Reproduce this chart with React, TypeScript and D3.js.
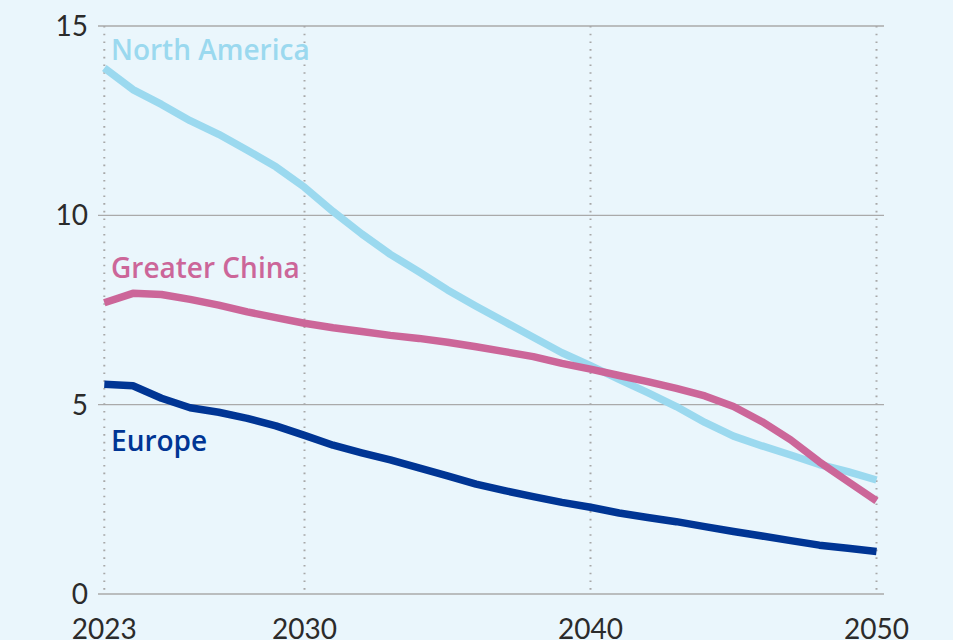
import React from "react";
import * as d3 from "d3";

// Annual values, 2023–2050
const years: number[] = d3.range(2023, 2051);

const northAmerica: number[] = [
  13.89, 13.32, 12.93, 12.5, 12.14, 11.72, 11.28, 10.74, 10.1, 9.51,
  8.97, 8.51, 8.03, 7.6, 7.19, 6.78, 6.37, 6.03, 5.67, 5.32,
  4.95, 4.53, 4.17, 3.91, 3.67, 3.42, 3.23, 3.01,
];

const greaterChina: number[] = [
  7.69, 7.94, 7.91, 7.78, 7.63, 7.45, 7.3, 7.15, 7.03, 6.93,
  6.83, 6.75, 6.65, 6.53, 6.4, 6.27, 6.09, 5.94, 5.77, 5.61,
  5.43, 5.23, 4.95, 4.55, 4.07, 3.49, 2.97, 2.46,
];

const europe: number[] = [
  5.54, 5.5, 5.17, 4.92, 4.8, 4.64, 4.44, 4.19, 3.93, 3.73,
  3.54, 3.33, 3.12, 2.9, 2.73, 2.57, 2.42, 2.29, 2.14, 2.02,
  1.91, 1.78, 1.65, 1.53, 1.41, 1.29, 1.21, 1.12,
];

const yTicks: number[] = [0, 5, 10, 15];
const xTicks: number[] = [2023, 2030, 2040, 2050];

const seriesNames = ["North America", "Greater China", "Europe"];
const seriesValues = [northAmerica, greaterChina, europe];
const seriesColors = ["#9BD9EF", "#CC6699", "#003594"];
// value at which each series label sits (baseline)
const labelValues = [14.1, 8.35, 3.78];

const W = 953;
const H = 640;

export default function App() {
  const x = d3.scaleLinear().domain([2023, 2050]).range([104.3, 876.5]);
  const y = d3.scaleLinear().domain([0, 15]).range([594, 26]);

  const line = d3
    .line<number>()
    .x((_, i) => x(years[i]))
    .y((d) => y(d));

  const tickFont = "Lato, 'Noto Sans', sans-serif";
  const labelFont = "'Open Sans', 'Noto Sans', sans-serif";

  return (
    <svg
      width={W}
      height={H}
      style={{ position: "fixed", left: 0, top: 0, display: "block" }}
    >
      <rect x={0} y={0} width={W} height={H} fill="#EAF6FC" />

      {/* horizontal gridlines */}
      {yTicks.map((t) => (
        <line
          key={"h" + t}
          x1={98}
          x2={884}
          y1={y(t)}
          y2={y(t)}
          stroke="#AAAAAA"
          strokeWidth={1.4}
        />
      ))}

      {/* dotted vertical gridlines */}
      {xTicks.map((t) => (
        <line
          key={"v" + t}
          x1={x(t)}
          x2={x(t)}
          y1={y(15)}
          y2={y(0)}
          stroke="#A8A8A8"
          strokeWidth={2}
          strokeDasharray="1.6 6.1"
        />
      ))}

      {/* y tick labels */}
      {yTicks.map((t) => (
        <text
          key={"yl" + t}
          x={88}
          y={y(t) + 10}
          textAnchor="end"
          fontFamily={tickFont}
          fontSize={28}
          fill="#2B2B2B"
        >
          {t}
        </text>
      ))}

      {/* x tick labels */}
      {xTicks.map((t) => (
        <text
          key={"xl" + t}
          x={x(t)}
          y={y(0) + 45}
          textAnchor="middle"
          fontFamily={tickFont}
          fontSize={28}
          fill="#2B2B2B"
        >
          {t}
        </text>
      ))}

      {/* series lines */}
      {seriesValues.map((vals, i) => (
        <path
          key={"s" + i}
          d={line(vals) || ""}
          fill="none"
          stroke={seriesColors[i]}
          strokeWidth={7.5}
          strokeLinejoin="round"
        />
      ))}

      {/* series labels */}
      {seriesNames.map((name, i) => (
        <text
          key={"n" + i}
          x={111}
          y={y(labelValues[i])}
          fontFamily={labelFont}
          fontWeight={600}
          fontSize={28}
          fill={seriesColors[i]}
        >
          {name}
        </text>
      ))}
    </svg>
  );
}
